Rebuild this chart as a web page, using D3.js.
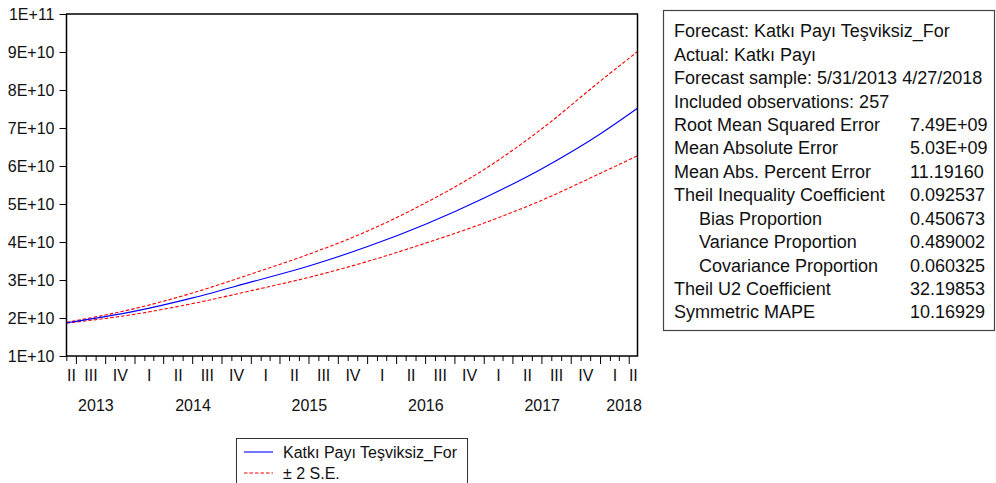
<!DOCTYPE html>
<html>
<head>
<meta charset="utf-8">
<script src="https://cdn.jsdelivr.net/npm/d3@7"></script>
<style>
  html, body { margin: 0; padding: 0; background: #fff; }
  svg { display: block; font-family: Arial, "Liberation Sans", sans-serif; }
</style>
</head>
<body>
<svg id="chart" width="996" height="483"></svg>
<script>
// Forecast path and ±2 S.E. band (values in TL), sampled over the forecast window
const sampleDates = ["2013-05-31", "2014-01-01", "2014-07-01", "2015-01-01", "2015-07-01",
                     "2016-01-01", "2016-07-01", "2017-01-01", "2017-07-01", "2018-01-01", "2018-04-27"];
const forecastValues = [1.875e10, 2.18e10, 2.53e10, 2.95e10, 3.37e10, 3.88e10, 4.47e10, 5.16e10, 5.93e10, 6.85e10, 7.52e10];
const upperValues    = [1.885e10, 2.25e10, 2.66e10, 3.16e10, 3.68e10, 4.29e10, 5.03e10, 5.91e10, 6.98e10, 8.24e10, 9.01e10];
const lowerValues    = [1.865e10, 2.10e10, 2.38e10, 2.72e10, 3.07e10, 3.49e10, 3.97e10, 4.50e10, 5.10e10, 5.81e10, 6.27e10];

const yTicks = [1e10, 2e10, 3e10, 4e10, 5e10, 6e10, 7e10, 8e10, 9e10, 1e11];
const quarterNames = ["I", "II", "III", "IV"];
const sampleStart = "2013-05-31";
const sampleEnd = "2018-04-27";

const legendLabels = ["Katkı Payı Teşviksiz_For", "± 2 S.E."];

const statLabels = [
  "Forecast: Katkı Payı Teşviksiz_For",
  "Actual: Katkı Payı",
  "Forecast sample: 5/31/2013 4/27/2018",
  "Included observations: 257",
  "Root Mean Squared Error",
  "Mean Absolute Error",
  "Mean Abs. Percent Error",
  "Theil Inequality Coefficient",
  "Bias Proportion",
  "Variance Proportion",
  "Covariance Proportion",
  "Theil U2 Coefficient",
  "Symmetric MAPE"
];
const statValues = ["", "", "", "", "7.49E+09", "5.03E+09", "11.19160", "0.092537",
                    "0.450673", "0.489002", "0.060325", "32.19853", "10.16929"];
const statIndented = [false, false, false, false, false, false, false, false, true, true, true, false, false];

const parse = d3.utcParse("%Y-%m-%d");
const svg = d3.select("#chart");

const plot = { left: 66.5, top: 14, right: 637.5, bottom: 356 };

const x = d3.scaleUtc()
  .domain([parse(sampleStart), parse(sampleEnd)])
  .range([plot.left, plot.right]);
const y = d3.scaleLinear()
  .domain([1e10, 1e11])
  .range([plot.bottom, plot.top]);

const sciFormat = d => {
  const e = Math.floor(Math.log10(d) + 1e-9);
  const m = Math.round(d / Math.pow(10, e));
  return m + "E+" + e;
};

// plot area
svg.append("rect")
  .attr("x", plot.left).attr("y", plot.top)
  .attr("width", plot.right - plot.left).attr("height", plot.bottom - plot.top)
  .attr("fill", "#fff");

// y axis
const yAxis = d3.axisLeft(y).tickValues(yTicks).tickFormat(sciFormat).tickSize(7).tickPadding(5);
const gy = svg.append("g").attr("transform", `translate(${plot.left},0)`).call(yAxis);
gy.select(".domain").remove();
gy.selectAll(".tick line").attr("stroke", "#000");
gy.selectAll(".tick text").attr("font-size", 16).attr("fill", "#111")
  .attr("font-family", "Arial, 'Liberation Sans', sans-serif");

// x axis: month ticks, longer ticks at quarter boundaries
const [d0, d1] = x.domain();
const months = d3.utcMonth.range(d3.utcMonth.ceil(d0), d1);
const gx = svg.append("g");
gx.selectAll("line.tick")
  .data(months)
  .join("line")
  .attr("x1", d => x(d)).attr("x2", d => x(d))
  .attr("y1", plot.bottom)
  .attr("y2", d => plot.bottom + (d.getUTCMonth() % 3 === 0 ? 8 : 5))
  .attr("stroke", "#000").attr("stroke-width", 1);

// quarter labels, centred in each quarter (clipped to the sample)
const quarters = d3.utcMonth.every(3).range(d3.utcYear.floor(d0), d1)
  .map(q => {
    const a = q < d0 ? d0 : q;
    const endQ = d3.utcMonth.offset(q, 3);
    const b = endQ > d1 ? d1 : endQ;
    return { start: q, cx: (x(a) + x(b)) / 2, label: quarterNames[Math.floor(q.getUTCMonth() / 3)], year: q.getUTCFullYear() };
  })
  .filter(q => d3.utcMonth.offset(q.start, 3) > d0);

gx.selectAll("text.q")
  .data(quarters)
  .join("text")
  .attr("x", d => d.cx).attr("y", 375)
  .attr("dy", "0.35em")
  .attr("text-anchor", "middle")
  .attr("font-size", 16).attr("fill", "#111")
  .text(d => d.label);

// year labels, centred between the first and last quarter label of the year
const years = d3.groups(quarters, d => d.year).map(([yr, qs]) => ({
  year: yr,
  cx: (qs[0].cx + qs[qs.length - 1].cx) / 2
}));
gx.selectAll("text.y")
  .data(years)
  .join("text")
  .attr("x", d => d.cx).attr("y", 405)
  .attr("dy", "0.35em")
  .attr("text-anchor", "middle")
  .attr("font-size", 16).attr("fill", "#111")
  .text(d => d.year);

// series
const dates = sampleDates.map(parse);
const line = d3.line()
  .x(d => x(d[0]))
  .y(d => y(d[1]))
  .curve(d3.curveMonotoneX);

svg.append("clipPath").attr("id", "plotclip")
  .append("rect").attr("x", plot.left).attr("y", plot.top)
  .attr("width", plot.right - plot.left).attr("height", plot.bottom - plot.top);

const series = svg.append("g").attr("clip-path", "url(#plotclip)");
series.append("path")
  .attr("d", line(d3.zip(dates, upperValues)))
  .attr("fill", "none").attr("stroke", "#ff0000").attr("stroke-width", 1.1)
  .attr("stroke-dasharray", "3.5,2");
series.append("path")
  .attr("d", line(d3.zip(dates, lowerValues)))
  .attr("fill", "none").attr("stroke", "#ff0000").attr("stroke-width", 1.1)
  .attr("stroke-dasharray", "3.5,2");
series.append("path")
  .attr("d", line(d3.zip(dates, forecastValues)))
  .attr("fill", "none").attr("stroke", "#0000ff").attr("stroke-width", 1.1);

// plot frame
svg.append("rect")
  .attr("x", plot.left).attr("y", plot.top)
  .attr("width", plot.right - plot.left).attr("height", plot.bottom - plot.top)
  .attr("fill", "none").attr("stroke", "#000").attr("stroke-width", 1.5);

// legend
const lg = svg.append("g");
lg.append("rect")
  .attr("x", 236.5).attr("y", 438.5).attr("width", 231).attr("height", 60)
  .attr("fill", "#fff").attr("stroke", "#333").attr("stroke-width", 1);
const legendItems = [
  { label: legendLabels[0], color: "#0000ff", dash: null, y: 452 },
  { label: legendLabels[1], color: "#ff0000", dash: "3.5,2", y: 473 }
];
legendItems.forEach(it => {
  lg.append("line")
    .attr("x1", 244).attr("x2", 273).attr("y1", it.y).attr("y2", it.y)
    .attr("stroke", it.color).attr("stroke-width", 1.1)
    .attr("stroke-dasharray", it.dash);
  lg.append("text")
    .attr("x", 283).attr("y", it.y).attr("dy", "0.35em")
    .attr("font-size", 16).attr("fill", "#111")
    .text(it.label);
});

// forecast evaluation table
const st = svg.append("g");
st.append("rect")
  .attr("x", 663.5).attr("y", 10.5).attr("width", 331).attr("height", 320)
  .attr("fill", "#fff").attr("stroke", "#444").attr("stroke-width", 1.2);
const rowY = i => 31 + 23.42 * i;
statLabels.forEach((lab, i) => {
  st.append("text")
    .attr("x", statIndented[i] ? 699 : 674).attr("y", rowY(i)).attr("dy", "0.35em")
    .attr("font-size", 18).attr("fill", "#111")
    .text(lab);
  if (statValues[i]) {
    st.append("text")
      .attr("x", 910).attr("y", rowY(i)).attr("dy", "0.35em")
      .attr("font-size", 18).attr("fill", "#111")
      .text(statValues[i]);
  }
});
</script>
</body>
</html>
